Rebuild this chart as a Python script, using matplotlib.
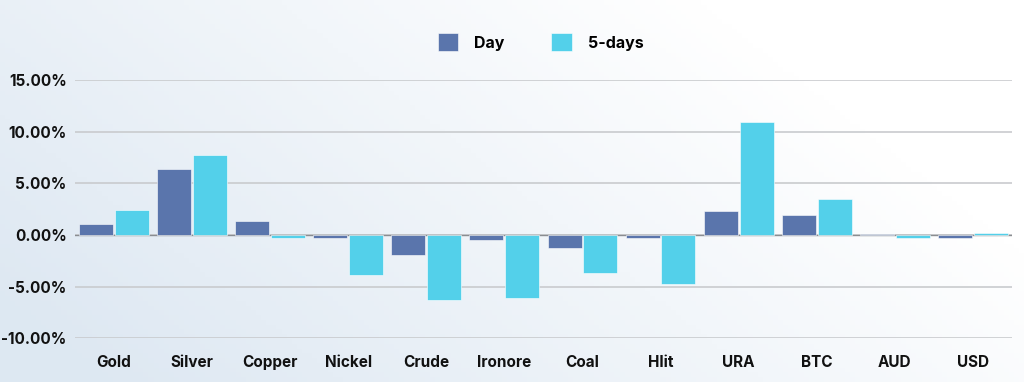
import numpy as np
import matplotlib
matplotlib.use("Agg")
import matplotlib.pyplot as plt
from matplotlib.ticker import FuncFormatter

plt.rcParams['font.family'] = ['Inter', 'DejaVu Sans']
plt.rcParams['font.weight'] = 'bold'

# data (percent)
assets = ['Gold', 'Silver', 'Copper', 'Nickel', 'Crude', 'Ironore',
          'Coal', 'Hlit', 'URA', 'BTC', 'AUD', 'USD']
day = [1.03, 6.35, 1.35, -0.25, -1.95, -0.5, -1.25, -0.3, 2.35, 1.9, 0.15, -0.3]
five_days = [2.4, 7.7, -0.3, -3.9, -6.3, -6.1, -3.65, -4.75, 10.9, 3.45, -0.25, 0.2]

c_day = '#5A75AC'
c_5d = '#53D0EA'

fig = plt.figure(figsize=(10.24, 3.82), dpi=100)

# soft background gradient (bluish on the left/bottom, white to the right)
bg = fig.add_axes([0, 0, 1, 1], zorder=-10)
gx, gy = np.meshgrid(np.linspace(0, 1, 200), np.linspace(0, 1, 80))
t = np.clip(0.95 * (1 - gx) + 0.45 * gy - 0.3, 0, 1)
c0 = np.array([1.0, 1.0, 1.0])
c1 = np.array([0.87, 0.91, 0.95])
img = c0 + (c1 - c0) * t[..., None]
bg.imshow(img, aspect='auto', extent=[0, 1, 0, 1], origin='upper')
bg.axis('off')

ax = fig.add_axes([0.0732, 0.1139, 0.915, 0.6767])
ax.patch.set_alpha(0)

x = np.arange(len(assets))
w = 0.435
ax.bar(x - w / 2 - 0.012, day, w, color=c_day, label='Day', zorder=3,
       edgecolor='white', linewidth=0.4)
ax.bar(x + w / 2 + 0.012, five_days, w, color=c_5d, label='5-days', zorder=3,
       edgecolor='white', linewidth=0.4)

ax.set_xlim(-0.5, len(assets) - 0.5)
ax.set_ylim(-10, 15)
ax.set_yticks([-10, -5, 0, 5, 10, 15])
ax.yaxis.set_major_formatter(FuncFormatter(lambda v, p: f'{v:.2f}%'))
ax.grid(axis='y', color='#C9CBCE', linewidth=1.2, zorder=0)
ax.axhline(0, color='#8A8D91', linewidth=1.0, zorder=2)
ax.set_xticks(x)
ax.set_xticklabels(assets)
ax.tick_params(axis='both', length=0, labelsize=11, colors='#111111')
ax.tick_params(axis='y', pad=6)
ax.tick_params(axis='x', pad=12)
for s in ax.spines.values():
    s.set_visible(False)

fig.legend(loc='upper center', bbox_to_anchor=(0.528, 0.95), ncol=2,
           frameon=False, fontsize=11.5, handlelength=1.3, handleheight=1.3,
           columnspacing=2.9, handletextpad=1.0)

fig.savefig('out.png', dpi=100)
